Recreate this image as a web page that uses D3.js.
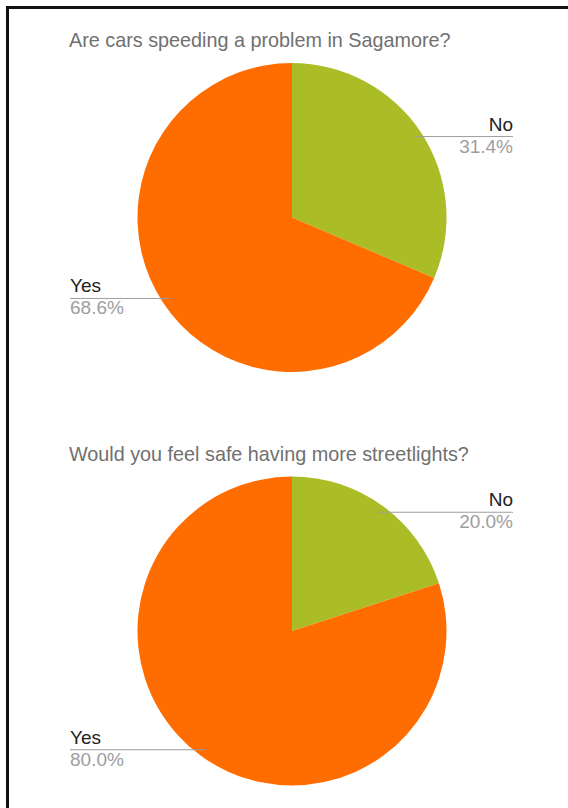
<!DOCTYPE html>
<html><head><meta charset="utf-8">
<script src="https://cdn.jsdelivr.net/npm/d3@7"></script>
<style>html,body{margin:0;padding:0;background:#fff;}</style>
</head><body>
<script>
const titles = ["Are cars speeding a problem in Sagamore?", "Would you feel safe having more streetlights?"];
const categories = ["No", "Yes"];
const chart1Values = [31.4, 68.6];
const chart2Values = [20.0, 80.0];
const percentLabels1 = ["31.4%", "68.6%"];
const percentLabels2 = ["20.0%", "80.0%"];
const colors = ["#abbd26", "#ff6d01"];

const W = 568, H = 808;
const svg = d3.select("body").append("svg").attr("width", W).attr("height", H);

// frame
svg.append("path").attr("d", `M7.5,${H} L7.5,7.5 L${W},7.5`)
  .attr("fill", "none").attr("stroke", "#111").attr("stroke-width", 3);

const color = d3.scaleOrdinal().domain(categories).range(colors);
const charts = [
  {title: titles[0], values: chart1Values, pct: percentLabels1, cy: 217.5, ty: 47},
  {title: titles[1], values: chart2Values, pct: percentLabels2, cy: 631, ty: 461}
];
const cx = 292, r = 154.5;
const pie = d3.pie().sort(null).value(d => d.v);
const arc = d3.arc().innerRadius(0).outerRadius(r);
const font = "Liberation Sans, Arial, sans-serif";

charts.forEach(c => {
  svg.append("text").attr("x", 69).attr("y", c.ty)
    .attr("font-family", font).attr("font-size", 19.8)
    .attr("fill", "#707070").text(c.title);
  const data = categories.map((k, i) => ({k, v: c.values[i], p: c.pct[i]}));
  const g = svg.append("g").attr("transform", `translate(${cx},${c.cy})`);
  const arcs = pie(data);
  g.selectAll("path.slice").data(arcs).join("path").attr("class", "slice")
    .attr("d", arc).attr("fill", d => color(d.data.k));
  arcs.forEach(a => {
    const mid = (a.startAngle + a.endAngle) / 2;
    const ax = 0.95 * r * Math.sin(mid), ay = -0.95 * r * Math.cos(mid);
    const right = ax > 0;
    const ex = right ? 513 - cx : 70 - cx;
    g.append("line").attr("x1", ax).attr("y1", ay).attr("x2", ex).attr("y2", ay)
      .attr("stroke", "#9e9e9e").attr("stroke-width", 1);
    const anchor = right ? "end" : "start";
    g.append("text").attr("x", ex).attr("y", ay - 6).attr("text-anchor", anchor)
      .attr("font-family", font).attr("font-size", 19)
      .attr("fill", "#222").text(a.data.k);
    g.append("text").attr("x", ex).attr("y", ay + 16).attr("text-anchor", anchor)
      .attr("font-family", font).attr("font-size", 19)
      .attr("fill", "#9e9e9e").text(a.data.p);
  });
});
</script>
</body></html>
